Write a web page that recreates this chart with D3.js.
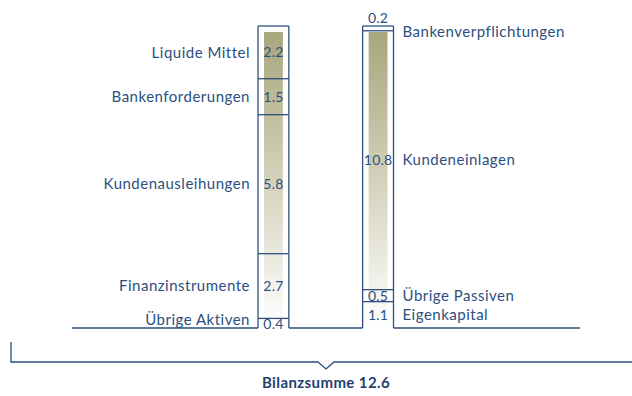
<!DOCTYPE html>
<html>
<head>
<meta charset="utf-8">
<script src="https://cdn.jsdelivr.net/npm/d3@7"></script>
<style>
  html, body { margin: 0; padding: 0; background: #fff; }
  svg { display: block; }
  text { font-family: Lato, "Open Sans", sans-serif; fill: #2c4f7f; }
</style>
</head>
<body>
<svg id="chart" width="632" height="396"></svg>
<script>
// Balance sheet (in billions): assets left, liabilities right, listed top to bottom
const sides = ["Aktiven", "Passiven"];
const assetLabels = ["Liquide Mittel", "Bankenforderungen", "Kundenausleihungen", "Finanzinstrumente", "Übrige Aktiven"];
const assetValues = [2.2, 1.5, 5.8, 2.7, 0.4];
const liabilityLabels = ["Bankenverpflichtungen", "Kundeneinlagen", "Übrige Passiven", "Eigenkapital"];
const liabilityValues = [0.2, 10.8, 0.5, 1.1];
const totalLabel = "Bilanzsumme";

const ink = "#2c4f7f";
const svg = d3.select("#chart");

const total = d3.sum(assetValues);
const y = d3.scaleLinear().domain([0, total]).range([328, 26]);
const x = d3.scaleBand().domain(sides).range([258, 393.5]).paddingInner(0.705).paddingOuter(0);
const bw = x.bandwidth();

// vertical gradient used inside both columns
const defs = svg.append("defs");
const grad = defs.append("linearGradient").attr("id", "fill")
  .attr("x1", 0).attr("y1", 0).attr("x2", 0).attr("y2", 1);
grad.append("stop").attr("offset", "0%").attr("stop-color", "#a8a67c");
grad.append("stop").attr("offset", "45%").attr("stop-color", "#cfcdb4");
grad.append("stop").attr("offset", "100%").attr("stop-color", "#ffffff");

// stack each side from the top (value total) downward
function stackTop(values, labels) {
  let top = total;
  return values.map((v, i) => {
    const seg = { label: labels[i], value: v, top: top, bottom: top - v };
    top -= v;
    return seg;
  });
}
const assets = stackTop(assetValues, assetLabels);
const liabilities = stackTop(liabilityValues, liabilityLabels);

// baseline
const baseY = y(0);
const base = svg.append("g").attr("stroke", ink).attr("stroke-width", 1.3);
base.append("line").attr("x1", 72).attr("x2", x("Aktiven")).attr("y1", baseY).attr("y2", baseY);
base.append("line").attr("x1", x("Aktiven") + bw).attr("x2", x("Passiven")).attr("y1", baseY).attr("y2", baseY);
base.append("line").attr("x1", x("Passiven") + bw).attr("x2", 580).attr("y1", baseY).attr("y2", baseY);

function drawColumn(side, segs, labelSide) {
  const x0 = x(side), x1 = x0 + bw, cx = x0 + bw / 2;
  const g = svg.append("g");
  // gradient stripe
  g.append("rect")
    .attr("x", x0 + 6).attr("width", bw - 12)
    .attr("y", y(total) + 6).attr("height", y(0) - y(total) - 6)
    .attr("fill", "url(#fill)");
  // box sides
  g.append("line").attr("x1", x0).attr("x2", x0).attr("y1", y(total)).attr("y2", baseY)
    .attr("stroke", ink).attr("stroke-width", 1.3);
  g.append("line").attr("x1", x1).attr("x2", x1).attr("y1", y(total)).attr("y2", baseY)
    .attr("stroke", ink).attr("stroke-width", 1.3);
  // top edge + separators
  g.selectAll("line.sep").data(segs).join("line").attr("class", "sep")
    .attr("x1", x0).attr("x2", x1)
    .attr("y1", d => y(d.top)).attr("y2", d => y(d.top))
    .attr("stroke", ink).attr("stroke-width", 1.3);

  // values
  g.selectAll("text.val").data(segs).join("text").attr("class", "val")
    .attr("x", cx)
    .attr("y", d => d.value < 0.3 ? y(d.top) - 8 : (d.value < 0.45 ? y(d.bottom) - 4 : (y(d.top) + y(d.bottom)) / 2))
    .attr("dy", "0.35em")
    .attr("text-anchor", "middle")
    .attr("font-size", 14)
    .style("letter-spacing", "0.2px")
    .text(d => d3.format(".1f")(d.value));

  // category labels
  g.selectAll("text.lab").data(segs).join("text").attr("class", "lab")
    .attr("x", labelSide === "left" ? x0 - 8 : x1 + 9)
    .attr("y", d => d.value < 0.3 ? (y(d.top) + y(d.bottom)) / 2 + 3 : (d.value < 0.45 ? y(d.top) + 1 : (y(d.top) + y(d.bottom)) / 2))
    .attr("dy", "0.35em")
    .attr("text-anchor", labelSide === "left" ? "end" : "start")
    .attr("font-size", 15)
    .style("letter-spacing", "0.5px")
    .text(d => d.label);
}
drawColumn("Aktiven", assets, "left");
drawColumn("Passiven", liabilities, "right");

// bracket spanning the whole balance sheet
const bx0 = 11, bx1 = 632, by = 362, notchX = 326;
svg.append("path")
  .attr("d", `M${bx0},342 V${by} H${notchX - 8} L${notchX},${by + 7} L${notchX + 8},${by} H${bx1}`)
  .attr("fill", "none").attr("stroke", ink).attr("stroke-width", 1.3);

svg.append("text")
  .attr("x", notchX).attr("y", 383)
  .attr("dy", "0.35em")
  .attr("text-anchor", "middle")
  .attr("font-size", 15)
  .attr("font-weight", 700)
  .style("letter-spacing", "0.4px")
  .style("fill", "#1f416f")
  .text(`${totalLabel} ${d3.format(".1f")(total)}`);
</script>
</body>
</html>
